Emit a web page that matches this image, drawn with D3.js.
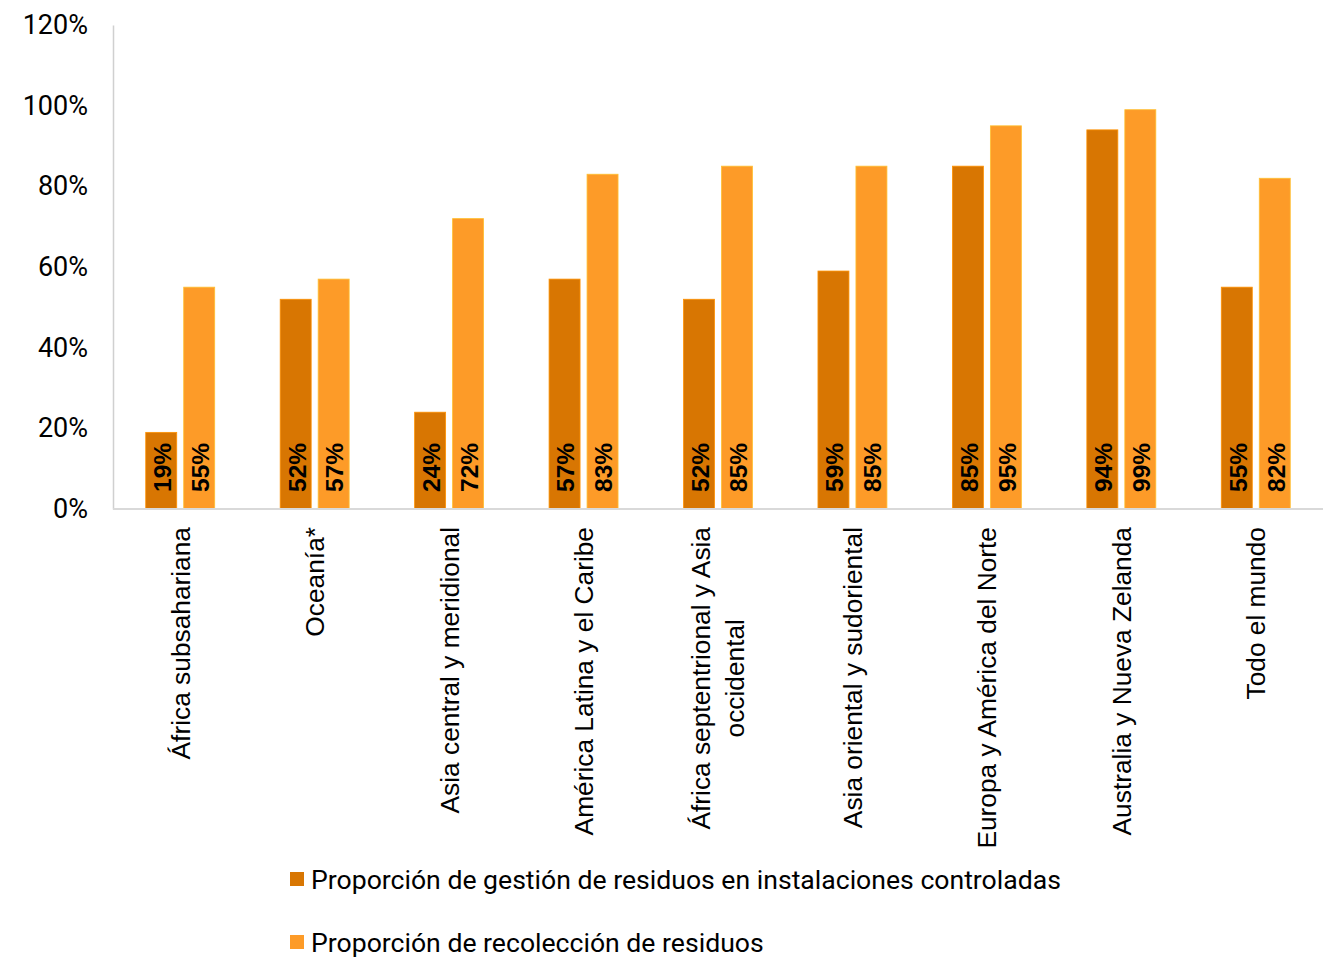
<!DOCTYPE html>
<html>
<head>
<meta charset="utf-8">
<script src="https://cdn.jsdelivr.net/npm/d3@7"></script>
<style>
  body { margin: 0; background: #fff; }
  .tick-label { font-family: Roboto, sans-serif; font-size: 27px; fill: #000; }
  .cat-label { font-family: "Liberation Sans", Arial, sans-serif; font-size: 26.3px; fill: #000; }
  .bar-label { font-family: "Liberation Sans", Arial, sans-serif; font-size: 24.5px; font-weight: bold; fill: #000; }
  .legend text { font-family: Roboto, sans-serif; font-size: 26.6px; fill: #000; }
</style>
</head>
<body>
<svg width="1332" height="966"></svg>
<script>
// data
var categories = ["África subsahariana", "Oceanía*", "Asia central y meridional",
  "América Latina y el Caribe", "África septentrional y Asia occidental",
  "Asia oriental y sudoriental", "Europa y América del Norte",
  "Australia y Nueva Zelanda", "Todo el mundo"];
var series = ["Proporción de gestión de residuos en instalaciones controladas",
  "Proporción de recolección de residuos"];
var gestion = [19, 52, 24, 57, 52, 59, 85, 94, 55];
var recoleccion = [55, 57, 72, 83, 85, 85, 95, 99, 82];
var yTicks = [0, 20, 40, 60, 80, 100, 120];
var colors = ["#d87602", "#fd9b28"];

var svg = d3.select("svg"),
    margin = {top: 25, right: 9, bottom: 457, left: 113},
    width = +svg.attr("width") - margin.left - margin.right,
    height = +svg.attr("height") - margin.top - margin.bottom;

var data = categories.map(function(c, i) {
  return {cat: c, values: [gestion[i], recoleccion[i]]};
});

var x0 = d3.scaleBand().domain(categories).range([0, width]).paddingInner(0.487).paddingOuter(0.2435),
    x1 = d3.scaleBand().domain([0, 1]).range([0, x0.bandwidth()]).paddingInner(0.184),
    y = d3.scaleLinear().domain([0, 120]).range([height, 0]);

var chart = svg.append("g")
    .attr("transform", "translate(" + margin.left + "," + margin.top + ")");

// y axis
var yAxis = chart.append("g")
    .call(d3.axisLeft(y).tickValues(yTicks).tickSize(0).tickPadding(25).tickFormat(function(d) { return d + "%"; }));
yAxis.select(".domain").attr("stroke", "#d0d0d0").attr("stroke-width", 1.5);
yAxis.selectAll("text").attr("class", "tick-label").attr("font-size", null).attr("font-family", null);

// bars
var group = chart.selectAll(".group")
    .data(data)
  .enter().append("g")
    .attr("class", "group")
    .attr("transform", function(d) { return "translate(" + x0(d.cat) + ",0)"; });

group.selectAll("rect")
    .data(function(d) { return d.values.map(function(v, i) { return {i: i, v: v}; }); })
  .enter().append("rect")
    .attr("x", function(d) { return x1(d.i); })
    .attr("y", function(d) { return y(d.v); })
    .attr("width", x1.bandwidth())
    .attr("height", function(d) { return height - y(d.v); })
    .attr("fill", function(d) { return colors[d.i]; })
    .attr("stroke", function(d) { return d3.color(colors[d.i]).brighter(0.6); })
    .attr("stroke-width", 0.8);

// bar labels, rotated
group.selectAll(".bar-label")
    .data(function(d) { return d.values.map(function(v, i) { return {i: i, v: v}; }); })
  .enter().append("text")
    .attr("class", "bar-label")
    .attr("transform", function(d) {
      return "translate(" + (x1(d.i) + x1.bandwidth() / 2 + 1) + "," + (height - 17) + ") rotate(-90)";
    })
    .attr("dy", "0.36em")
    .text(function(d) { return d.v + "%"; });

// x axis line
chart.append("line")
    .attr("x1", 0).attr("x2", width)
    .attr("y1", height).attr("y2", height)
    .attr("stroke", "#d9d9d9").attr("stroke-width", 2);

// category labels, rotated and wrapped
var maxLen = 340;
group.each(function(d) {
  var g = d3.select(this),
      cx = x0.bandwidth() / 2;
  var t = g.append("text").attr("class", "cat-label").text(d.cat);
  var lines = [d.cat];
  if (t.node().getComputedTextLength() > maxLen) {
    var words = d.cat.split(" "), line = [];
    lines = [];
    words.forEach(function(w) {
      line.push(w);
      t.text(line.join(" "));
      if (t.node().getComputedTextLength() > maxLen && line.length > 1) {
        line.pop();
        lines.push(line.join(" "));
        line = [w];
      }
    });
    lines.push(line.join(" "));
  }
  t.remove();
  var lh = 34, n = lines.length;
  var widths = lines.map(function(l) {
    var tt = g.append("text").attr("class", "cat-label").text(l);
    var w = tt.node().getComputedTextLength();
    tt.remove();
    return w;
  });
  var mw = d3.max(widths);
  lines.forEach(function(l, k) {
    g.append("text")
      .attr("class", "cat-label")
      .attr("transform", "translate(" + (cx + (k - (n - 1) / 2) * lh) + "," + (height + 18 + (n > 1 ? mw / 2 : 0)) + ") rotate(-90)")
      .attr("text-anchor", n > 1 ? "middle" : "end")
      .attr("dy", "0.36em")
      .text(l);
  });
});

// legend
var legend = svg.append("g").attr("class", "legend");
var item = legend.selectAll("g")
    .data(series)
  .enter().append("g")
    .attr("transform", function(d, i) { return "translate(290," + (872 + i * 63) + ")"; });
item.append("rect")
    .attr("width", 14).attr("height", 14)
    .attr("fill", function(d, i) { return colors[i]; });
item.append("text")
    .attr("x", 21).attr("y", 7)
    .attr("dy", "0.36em")
    .text(function(d) { return d; });
</script>
</body>
</html>
